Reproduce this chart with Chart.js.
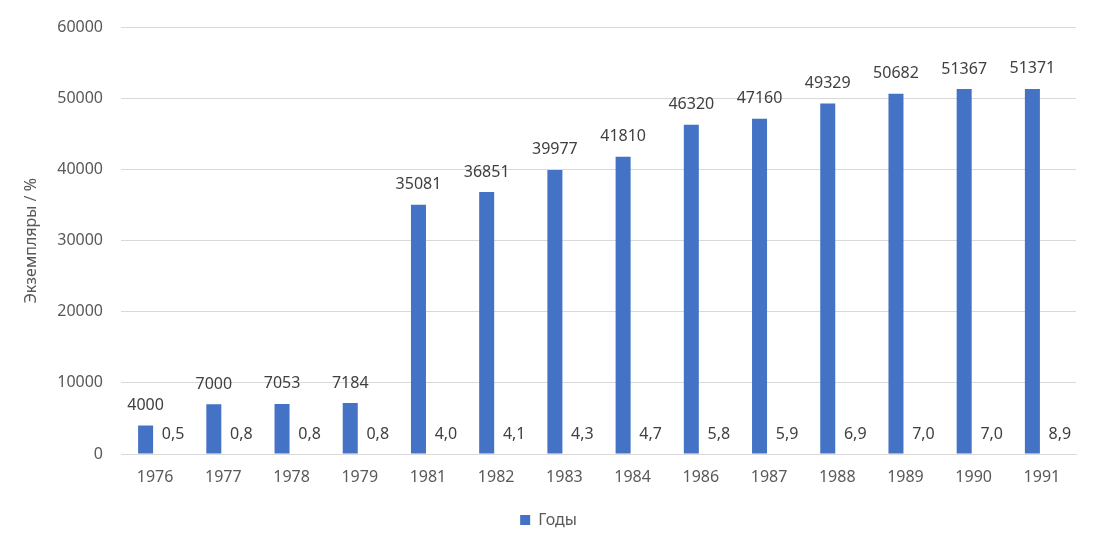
<!DOCTYPE html>
<html>
<head>
<meta charset="utf-8">
<script src="https://cdn.jsdelivr.net/npm/chart.js@4/dist/chart.umd.min.js"></script>
<style>
    html, body { margin: 0; padding: 0; background: #ffffff; }
    #wrap { width: 1115px; height: 541px; }
</style>
</head>
<body>
<div id="wrap"><canvas id="grafico"></canvas></div>
<script>
// datos
const anios = ['1976', '1977', '1978', '1979', '1981', '1982', '1983', '1984', '1986', '1987', '1988', '1989', '1990', '1991'];
const ejemplares = [4000, 7000, 7053, 7184, 35081, 36851, 39977, 41810, 46320, 47160, 49329, 50682, 51367, 51371];
const porcentajes = [0.5, 0.8, 0.8, 0.8, 4.0, 4.1, 4.3, 4.7, 5.8, 5.9, 6.9, 7.0, 7.0, 8.9];
const ticksY = [0, 10000, 20000, 30000, 40000, 50000, 60000];

const azul = '#4472C4';
const gris = '#595959';
const fuente = '"Noto Sans", "Open Sans", sans-serif';

// etiquetas de datos dibujadas sobre cada barra
const etiquetasPlugin = {
    id: 'etiquetas',
    afterDatasetsDraw(chart) {
        const ctx = chart.ctx;
        ctx.save();
        ctx.font = '16px ' + fuente;
        ctx.fillStyle = '#404040';
        ctx.textAlign = 'center';
        ctx.textBaseline = 'middle';
        chart.data.datasets.forEach((ds, i) => {
            const meta = chart.getDatasetMeta(i);
            meta.data.forEach((bar, j) => {
                const v = ds.data[j];
                if (i === 0) {
                    ctx.fillText(String(v), bar.x, bar.y - 20);
                } else {
                    ctx.fillText(v.toFixed(1).replace('.', ','), bar.x + 8.5, bar.base - 19);
                }
            });
        });
        ctx.restore();
    }
};

new Chart(document.getElementById('grafico'), {
    type: 'bar',
    data: {
        labels: anios,
        datasets: [
            {
                label: 'Годы',
                data: ejemplares,
                backgroundColor: azul,
                borderWidth: 0,
                inflateAmount: 0,
                categoryPercentage: 0.557,
                barPercentage: 0.79
            },
            {
                // barras de % casi sin altura en esta escala
                label: '%',
                data: porcentajes,
                backgroundColor: 'rgba(68, 114, 196, 0)',
                borderWidth: 0,
                inflateAmount: 0,
                categoryPercentage: 0.557,
                barPercentage: 0.79
            }
        ]
    },
    options: {
        responsive: true,
        maintainAspectRatio: false,
        animation: false,
        layout: {
            padding: { left: 21, right: 39, top: 25, bottom: 3 }
        },
        plugins: {
            legend: {
                position: 'bottom',
                labels: {
                    boxWidth: 10,
                    boxHeight: 10,
                    color: gris,
                    font: { family: fuente, size: 16 },
                    filter: (item) => item.datasetIndex === 0
                }
            },
            tooltip: { enabled: false },
            title: { display: false }
        },
        scales: {
            x: {
                grid: { display: false, drawTicks: false },
                border: { display: true, color: '#d9d9d9' },
                ticks: {
                    color: gris,
                    font: { family: fuente, size: 16 },
                    padding: 14
                },
                afterFit: (s) => { s.height = 48; }
            },
            y: {
                min: 0,
                max: 60000,
                afterBuildTicks: (s) => { s.ticks = ticksY.map((v) => ({ value: v })); },
                grid: { color: '#d9d9d9', drawTicks: false },
                border: { display: false },
                ticks: {
                    color: gris,
                    font: { family: fuente, size: 16 },
                    padding: 18,
                    callback: (v) => String(v)
                },
                title: {
                    display: true,
                    text: 'Экземпляры / %',
                    color: gris,
                    font: { family: fuente, size: 16 },
                    padding: { top: 1, bottom: 0 }
                },
                afterFit: (s) => { s.width = 100; }
            }
        }
    },
    plugins: [etiquetasPlugin]
});
</script>
</body>
</html>
